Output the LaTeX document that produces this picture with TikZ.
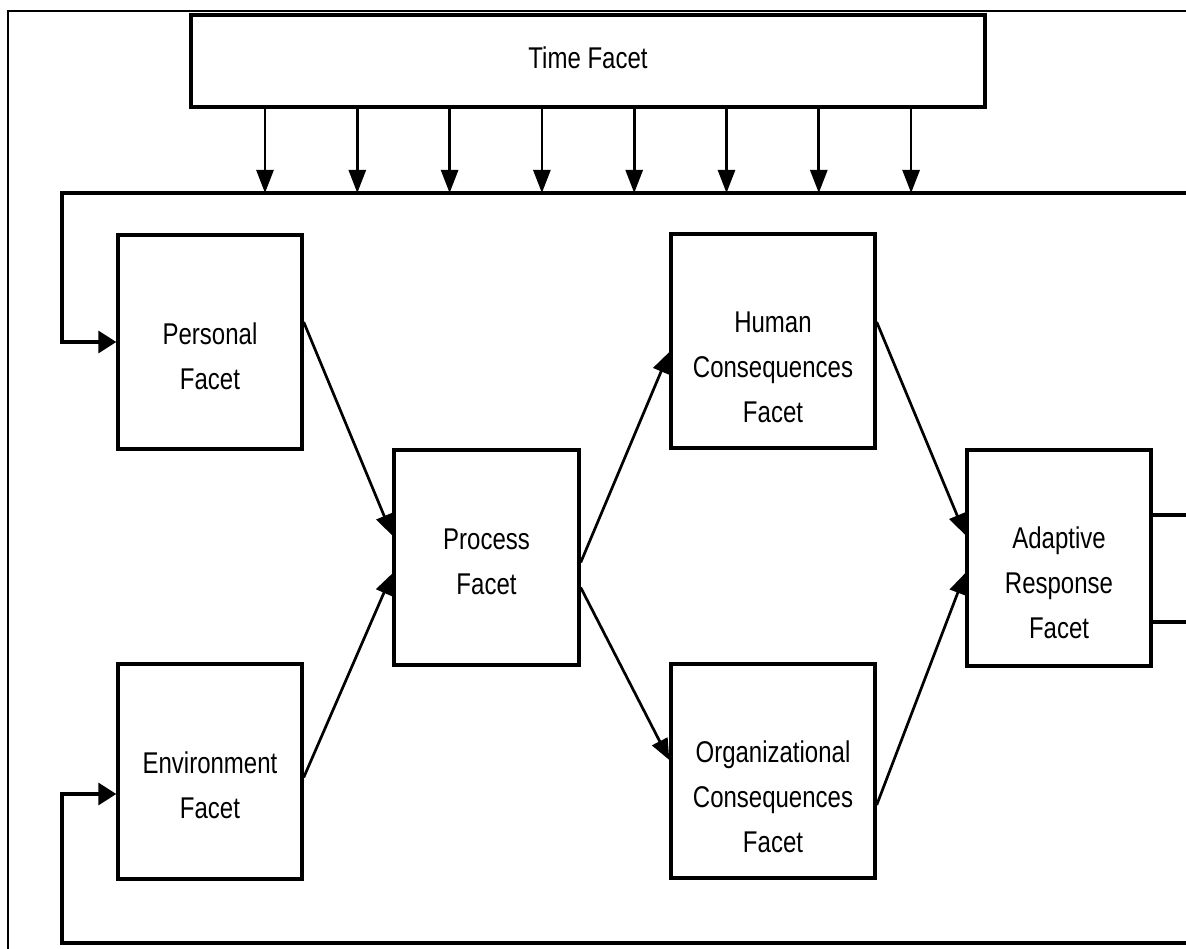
\documentclass[tikz,border=0pt]{standalone}
\usepackage{fontspec}
\setmainfont{Liberation Sans}[FakeStretch=0.8]
\usetikzlibrary{arrows.meta,calc}
\begin{document}
\begin{tikzpicture}[x=1pt,y=-1pt,
  box/.style={draw, line width=3.4pt, inner sep=0pt},
  lbl/.style={align=center, inner sep=0pt, font=\fontsize{30}{45}\selectfont},
  flow/.style={line width=2.7pt, -{Triangle[length=21pt,width=17pt]}},
  tarrow/.style={line width=2.7pt, -{Triangle[length=23pt,width=17pt]}},
  loopline/.style={line width=3.4pt, -{Triangle[length=18pt,width=22pt]}},
  plain/.style={line width=3.4pt},
  frame/.style={line width=1.4pt}]
\useasboundingbox (0,0) rectangle (1186,949);

% outer frame
\coordinate (fBL) at (8,949);
\coordinate (fTL) at (8,11);
\coordinate (fTR) at (1186,11);
\draw[frame] (fBL) -- (fTL) -- (fTR);

% facet boxes
\node[box, minimum width=794pt, minimum height=92pt] (time) at (588,61) {};
\node[lbl] (timeT) at (588,58) {Time Facet};
\node[box, minimum width=184pt, minimum height=214pt] (per) at (210,342) {};
\node[lbl] (perT) at (210,356) {Personal\\Facet};
\node[box, minimum width=184pt, minimum height=215pt] (env) at (210,771.5) {};
\node[lbl] (envT) at (210,785) {Environment\\Facet};
\node[box, minimum width=185pt, minimum height=215pt] (proc) at (486.5,557.5) {};
\node[lbl] (procT) at (486.5,562) {Process\\Facet};
\node[box, minimum width=204pt, minimum height=214pt] (hum) at (773,341) {};
\node[lbl] (humT) at (773,367) {Human\\Consequences\\Facet};
\node[box, minimum width=204pt, minimum height=214pt] (org) at (773,771) {};
\node[lbl] (orgT) at (773,797) {Organizational\\Consequences\\Facet};
\node[box, minimum width=184pt, minimum height=216pt] (ad) at (1059,558) {};
\node[lbl] (adT) at (1059,583) {Adaptive\\Response\\Facet};

% time facet acting on the whole loop
\foreach \i in {0,...,7}{
  \pgfmathsetmacro\xx{265+92.3*\i}
  \draw[tarrow] ($(time.south)+({\xx-588},0)$) -- (\xx,193);
}

% flow between facets
\draw[flow] ([yshift=20pt]per.east) -- ([yshift=22pt]proc.west);
\draw[flow] ([yshift=-6pt]env.east) -- ([yshift=-16pt]proc.west);
\draw[flow] ([yshift=-5pt]proc.east) -- ([yshift=-11pt]hum.west);
\draw[flow] ([yshift=-30pt]proc.east) -- ([yshift=11pt]org.west);
\draw[flow] ([yshift=19pt]hum.east) -- ([yshift=23pt]ad.west);
\draw[flow] ([yshift=-34pt]org.east) -- ([yshift=-15pt]ad.west);

% feedback loops
\coordinate (topR) at (1186,193);
\coordinate (botR) at (1186,943);
\draw[loopline] (topR) -- (62,193) |- (per.west);
\draw[loopline] (botR) -- (62,943) |- ([yshift=-22.5pt]env.west);

% outputs of the adaptive response
\coordinate (outA) at (1186,515);
\coordinate (outB) at (1186,622);
\draw[plain] ([yshift=43pt]ad.east) -- (outA);
\draw[plain] ([yshift=-64pt]ad.east) -- (outB);
\end{tikzpicture}
\end{document}
